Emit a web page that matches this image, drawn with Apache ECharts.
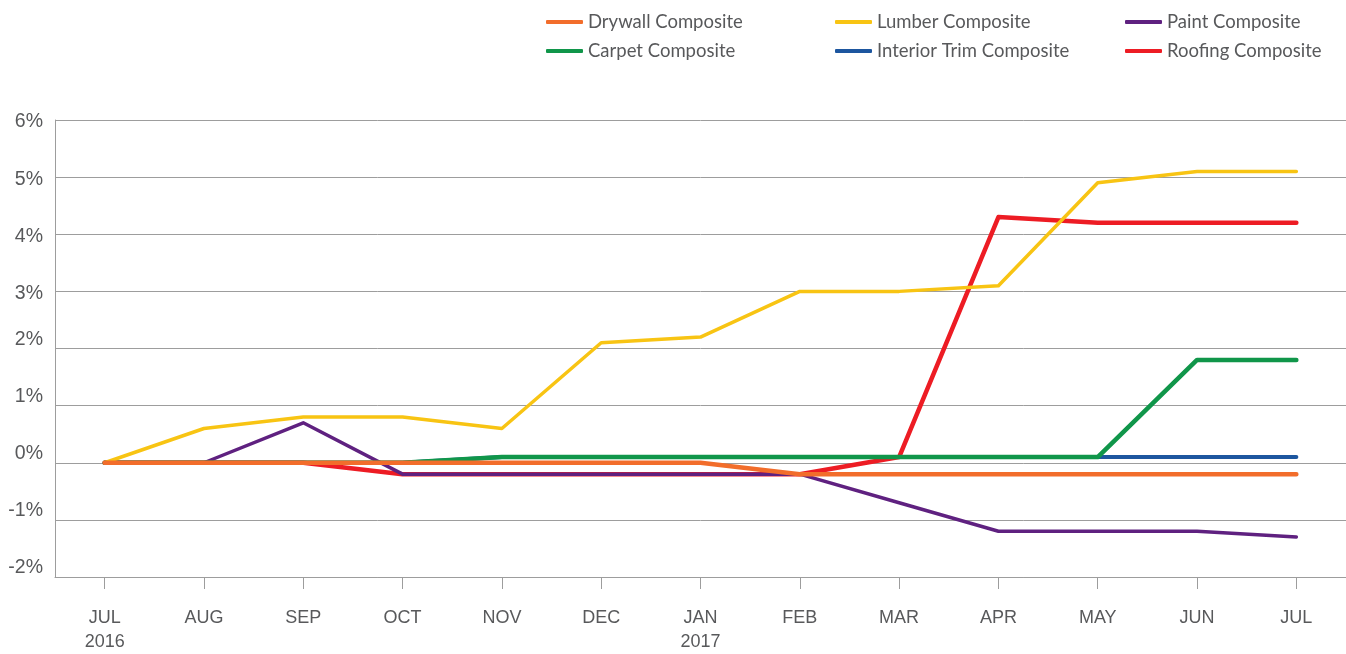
<!DOCTYPE html>
<html>
<head>
<meta charset="utf-8">
<script src="https://cdn.jsdelivr.net/npm/echarts@6/dist/echarts.min.js"></script>
<style>
html,body{margin:0;padding:0;background:#fff;}
#chart{width:1346px;height:654px;}
</style>
</head>
<body>
<div id="chart"></div>
<script>
const categories = ['JUL\n2016','AUG','SEP','OCT','NOV','DEC','JAN\n2017','FEB','MAR','APR','MAY','JUN','JUL'];
const drywall      = [0, 0, 0, 0, 0, 0, 0, -0.2, -0.2, -0.2, -0.2, -0.2, -0.2];
const lumber       = [0, 0.6, 0.8, 0.8, 0.6, 2.1, 2.2, 3.0, 3.0, 3.1, 4.9, 5.1, 5.1];
const paint        = [0, 0, 0.7, -0.2, -0.2, -0.2, -0.2, -0.2, -0.7, -1.2, -1.2, -1.2, -1.3];
const carpet       = [0, 0, 0, 0, 0.1, 0.1, 0.1, 0.1, 0.1, 0.1, 0.1, 1.8, 1.8];
const interiorTrim = [0, 0, 0, 0, 0.1, 0.1, 0.1, 0.1, 0.1, 0.1, 0.1, 0.1, 0.1];
const roofing      = [0, 0, 0, -0.2, -0.2, -0.2, -0.2, -0.2, 0.1, 4.3, 4.2, 4.2, 4.2];
const yTicks = [-2, -1, 0, 1, 2, 3, 4, 5, 6];

const colors = {
  'Drywall Composite': '#f26d2b',
  'Lumber Composite': '#f8c413',
  'Paint Composite': '#5f2180',
  'Carpet Composite': '#10964a',
  'Interior Trim Composite': '#1d569f',
  'Roofing Composite': '#ed1c24'
};

const chart = echarts.init(document.getElementById('chart'));
const grey = '#58595b';
function mkLine(name, data, width) {
  return {
    name, type: 'line', data, symbol: 'none', smooth: false,
    lineStyle: { color: colors[name], width, cap: 'round', join: 'round' },
    itemStyle: { color: colors[name] },
    emphasis: { disabled: true }
  };
}
function mkLegend(left, names) {
  return {
    orient: 'vertical', left, top: 12, itemGap: 9, padding: 0,
    itemWidth: 37, itemHeight: 4, icon: 'roundRect',
    data: names,
    textStyle: { color: grey, fontFamily: 'Lato', fontSize: 18.5, lineHeight: 20, padding: [0,0,0,0] }
  };
}
chart.setOption({
  animation: false,
  legend: [
    mkLegend(546, ['Drywall Composite', 'Carpet Composite']),
    mkLegend(835, ['Lumber Composite', 'Interior Trim Composite']),
    mkLegend(1125, ['Paint Composite', 'Roofing Composite'])
  ],
  grid: { left: 55, right: 0, top: 120, bottom: 73, containLabel: false },
  xAxis: {
    type: 'category', data: categories, boundaryGap: true,
    axisLine: { show: true, onZero: false, lineStyle: { color: '#9d9d9d', width: 1 } },
    axisTick: { show: true, alignWithLabel: true, length: 12, lineStyle: { color: '#9d9d9d' } },
    axisLabel: { color: grey, fontFamily: 'Liberation Sans', fontSize: 18, lineHeight: 24, margin: 29, interval: 0 },
    splitLine: { show: false }
  },
  yAxis: {
    type: 'value', min: -2, max: 6, interval: 1,
    axisLine: { show: true, lineStyle: { color: '#9d9d9d', width: 1 } },
    axisTick: { show: false },
    splitLine: { show: true, lineStyle: { color: '#9d9d9d', width: 1 } },
    axisLabel: {
      color: grey, fontFamily: 'Liberation Sans', fontSize: 19.5, margin: 12,
      formatter: v => (v >= 3 ? '{h|' + v + '%}' : '{l|' + v + '%}'),
      rich: {
        h: { color: grey, fontFamily: 'Liberation Sans', fontSize: 19.5, padding: [4,0,0,0] },
        l: { color: grey, fontFamily: 'Liberation Sans', fontSize: 19.5, padding: [0,0,18,0] }
      }
    }
  },
  series: [
    mkLine('Roofing Composite', roofing, 4.5),
    mkLine('Paint Composite', paint, 3.5),
    mkLine('Interior Trim Composite', interiorTrim, 4),
    mkLine('Carpet Composite', carpet, 4.5),
    mkLine('Lumber Composite', lumber, 3.5),
    mkLine('Drywall Composite', drywall, 4.5)
  ]
});
</script>
</body>
</html>
